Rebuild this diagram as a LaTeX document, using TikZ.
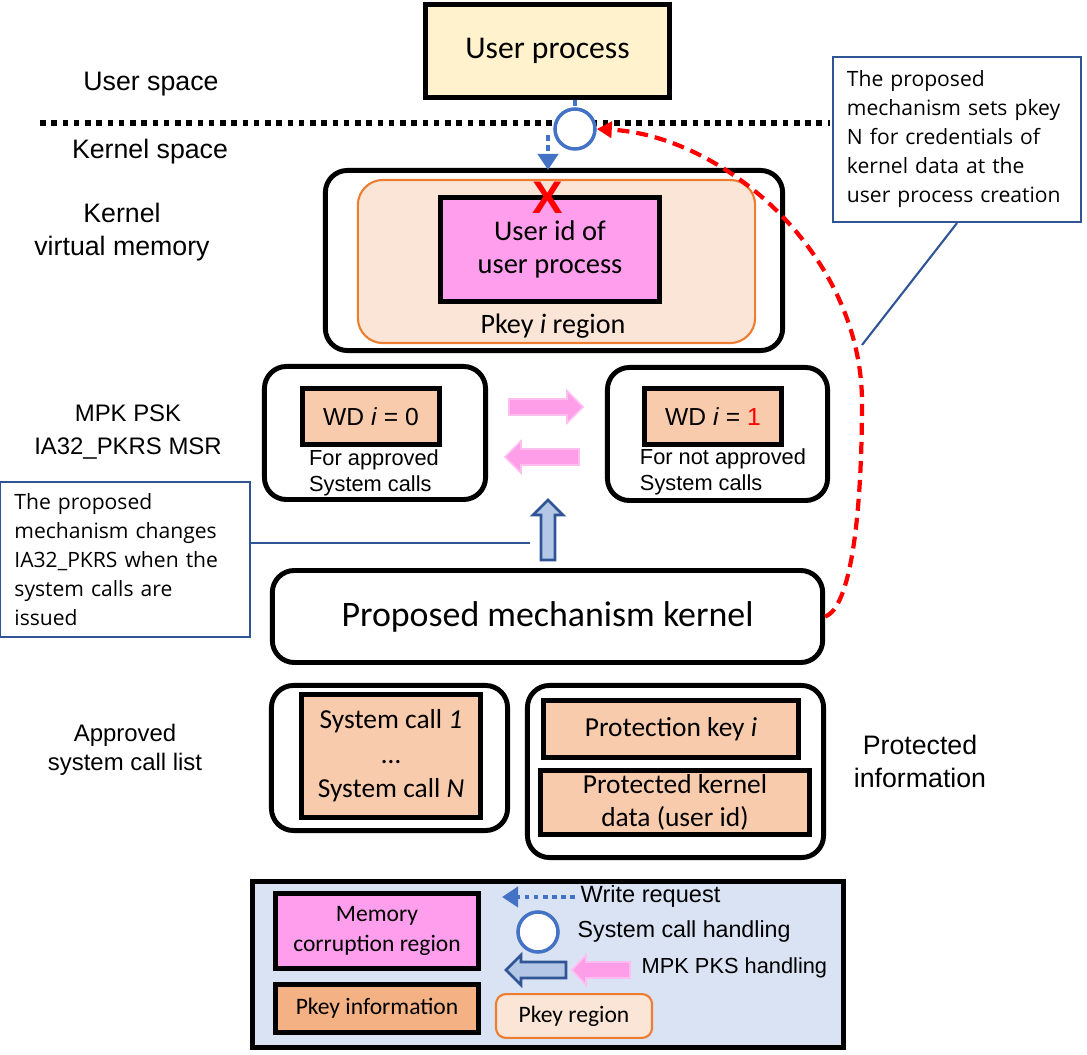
\documentclass[tikz,border=0pt]{standalone}
\usepackage{fontspec}
\setmainfont{Carlito}
\newfontfamily\arialfont{Liberation Sans}
\newfontfamily\notefont{Open Sans}
\usetikzlibrary{arrows.meta}

\definecolor{userfill}{HTML}{FFF2CC}
\definecolor{corruptfill}{HTML}{FF9EEC}
\definecolor{regionfill}{HTML}{FBE5D6}
\definecolor{regionline}{HTML}{ED7D31}
\definecolor{keyfill}{HTML}{F8CBAD}
\definecolor{infofill}{HTML}{F4B183}
\definecolor{legendfill}{HTML}{DAE3F3}
\definecolor{sysblue}{HTML}{4472C4}
\definecolor{noteblue}{HTML}{2F5597}
\definecolor{lightblue}{HTML}{B4C7E7}
\definecolor{arrowpink}{HTML}{FF9EE8}
\definecolor{arrowpinkline}{HTML}{FFBDF0}

\tikzset{
  frame/.style={draw=black, line width=1.4pt, rounded corners=0.22cm, inner sep=0pt},
  keybox/.style={draw=black, line width=1.5pt, fill=keyfill, inner sep=0pt, align=center},
  sidetext/.style={font=\arialfont\fontsize{7.6}{9.4}\selectfont, align=center},
  callout/.style={draw=noteblue, line width=0.6pt, fill=white, align=left, inner xsep=0.14cm,
    font=\notefont\fontsize{6}{8.25}\selectfont},
  noteline/.style={draw=noteblue, line width=0.6pt},
  bluedash/.style={draw=sysblue, line width=1.4pt, dash pattern=on 1.7pt off 1.2pt},
  pinkarrow/.style={fill=arrowpink, draw=arrowpinkline, line width=0.5pt},
  bluearrow/.style={fill=lightblue, draw=noteblue, line width=0.8pt},
  syscircle/.style={circle, draw=sysblue, line width=1pt, fill=white, minimum size=0.4cm, inner sep=0pt},
}

\begin{document}
\begin{tikzpicture}[x=0.01cm, y=-0.01cm]
\useasboundingbox (0,0) rectangle (1087,1055);
% Space labels and border
\node[sidetext] (userspace) at (151,84) {User space};
\node[sidetext] (kernelspace) at (150,152) {Kernel space};
\draw[black, line width=1.6pt, dash pattern=on 1.6pt off 1.6pt] (40,123) -- (830,123);
\node[sidetext] (kvmlabel) at (122,232) {Kernel\\virtual memory};
\node[sidetext, font=\arialfont\fontsize{6.8}{9.4}\selectfont] (msrlabel) at (128,432) {MPK PSK\\IA32\_PKRS MSR};
\node[sidetext, font=\arialfont\fontsize{6.8}{8.4}\selectfont] (listlabel) at (125,750) {Approved\\system call list};
\node[sidetext, font=\arialfont\fontsize{7.6}{9.4}\selectfont] (infolabel) at (920,761) {Protected\\information};
% User process
\node[draw=black, line width=1.5pt, fill=userfill, minimum width=2.44cm, minimum height=0.93cm,
  font=\fontsize{9}{10}\selectfont] (uproc) at (547.5,51) {User process};
\node[syscircle] (sch) at (575,129) {};
\draw[bluedash] (uproc.south -| sch.north) -- (sch.north);
% Kernel virtual memory
\node[frame, minimum width=4.57cm, minimum height=1.8cm] (kvm) at (554,260.5) {};
\node[draw=regionline, line width=0.6pt, fill=regionfill, rounded corners=0.25cm,
  minimum width=3.97cm, minimum height=1.63cm] (pkeyreg) at (556.5,261.5) {};
\node[draw=black, line width=1.5pt, fill=corruptfill, minimum width=2.19cm, minimum height=1.04cm,
  align=center, font=\fontsize{8.1}{9.4}\selectfont] (userid) at (550,249.5) {User id of\\user process};
\node[font=\fontsize{8}{9}\selectfont] (pkeylabel) at (553,326) {Pkey \textit{i} region};
\coordinate (wrq) at (548,135);
\draw[bluedash, -{Triangle[width=0.2cm,length=0.16cm]}] (wrq) -- (548,170);
\node[text=red, font=\arialfont\bfseries\fontsize{13}{13}\selectfont, inner sep=0pt] (deny) at (548,198) {X};
% WD switching
\node[frame, minimum width=2.21cm, minimum height=1.33cm] (wdleft) at (375,433) {};
\node[keybox, minimum width=1.37cm, minimum height=0.56cm, font=\arialfont\fontsize{7}{8}\selectfont]
  (wdzero) at (371,416.5) {WD \textit{i} = 0};
\node[align=left, font=\arialfont\fontsize{6.2}{7.4}\selectfont] (apprtext) at (374,473) {For approved\\System calls};
\node[frame, minimum width=2.2cm, minimum height=1.33cm] (wdright) at (717.5,434) {};
\node[keybox, minimum width=1.37cm, minimum height=0.56cm, font=\arialfont\fontsize{7}{8}\selectfont]
  (wdone) at (713,416.5) {WD \textit{i} = \textcolor{red}{1}};
\node[align=left, font=\arialfont\fontsize{6.2}{7.4}\selectfont] (notapprtext) at (723,472) {For not approved\\System calls};
\draw[pinkarrow] (509,399) -- (567,399) -- (567,391) -- (583,407) -- (567,423) -- (567,415) -- (509,415) -- cycle;
\draw[pinkarrow] (579,449) -- (521,449) -- (521,441) -- (505,457) -- (521,473) -- (521,465) -- (579,465) -- cycle;
\draw[bluearrow] (541,560) -- (541,515) -- (533,515) -- (548,500) -- (563,515) -- (555,515) -- (555,560) -- cycle;
% Kernel
\node[frame, minimum width=5.5cm, minimum height=0.92cm, font=\fontsize{10.2}{12}\selectfont]
  (kernel) at (547.5,616.5) {Proposed mechanism kernel};
% Approved list and protected information
\node[frame, minimum width=2.36cm, minimum height=1.45cm] (apprlist) at (389.5,758) {};
\node[keybox, minimum width=1.79cm, minimum height=1.23cm, font=\fontsize{7.8}{9.8}\selectfont]
  (syscalls) at (391,756) {System call \textit{1}\\…\\System call \textit{N}};
\node[frame, minimum width=2.96cm, minimum height=1.72cm] (protinfo) at (675.5,771.5) {};
\node[keybox, minimum width=2.55cm, minimum height=0.57cm, font=\fontsize{7.8}{9}\selectfont]
  (protkey) at (671,729) {Protection key \textit{i}};
\node[keybox, minimum width=2.69cm, minimum height=0.64cm, font=\fontsize{7.8}{9.6}\selectfont]
  (protdata) at (675,802.5) {Protected kernel\\data (user id)};
% Credential setting
\draw[red, line width=1.2pt, dash pattern=on 3.4pt off 2pt, -{Triangle[width=0.16cm,length=0.15cm]}]
  (kernel.east) .. controls (850,608) and (862,520) .. (862,400)
  .. controls (860,250) and (720,135) .. (sch.east);
% Callouts
\node[callout, text width=2.2cm, minimum height=1.65cm] (setnote) at (957,139.5)
  {The proposed\\mechanism sets pkey\\N for credentials of\\kernel data at the\\user process creation};
\draw[noteline] (setnote.south) -- (862,345);
\node[callout, text width=2.21cm, minimum height=1.55cm] (pkrsnote) at (125,559.5)
  {The proposed\\mechanism changes\\IA32\_PKRS when the\\system calls are\\issued};
\coordinate (pkrsend) at (530,543);
\draw[noteline] (pkrsnote.east |- pkrsend) -- (pkrsend);
% Legend
\node[draw=black, line width=1.5pt, fill=legendfill, minimum width=5.91cm, minimum height=1.66cm] (legend) at (548,964.5) {};
\node[draw=black, line width=1.5pt, fill=corruptfill, minimum width=2.03cm, minimum height=0.75cm,
  align=center, font=\fontsize{6.7}{8.4}\selectfont] (corruptkey) at (377,931) {Memory\\corruption region};
\node[draw=black, line width=1.5pt, fill=infofill, minimum width=2.03cm, minimum height=0.48cm,
  font=\fontsize{6.7}{8}\selectfont] (infokey) at (377,1008.5) {Pkey information};
\coordinate (wrstart) at (575,897);
\draw[bluedash, dash pattern=on 1.3pt off 1.3pt, -{Triangle[width=0.2cm,length=0.16cm]}] (wrstart) -- (502,897);
\node[anchor=west, inner sep=0pt, font=\arialfont\fontsize{6.7}{8}\selectfont] (wrtext) at (580,896) {Write request};
\node[syscircle] (schkey) at (538,932) {};
\node[anchor=west, inner sep=0pt, font=\arialfont\fontsize{6.6}{8}\selectfont] (schtext) at (577,932) {System call handling};
\draw[bluearrow] (566,962) -- (521,962) -- (521,955) -- (506,970) -- (521,985) -- (521,978) -- (566,978) -- cycle;
\draw[pinkarrow] (630,962) -- (586,962) -- (586,955) -- (572,970) -- (586,985) -- (586,978) -- (630,978) -- cycle;
\node[anchor=west, inner sep=0pt, font=\arialfont\fontsize{6.2}{8}\selectfont] (pkstext) at (641,968) {MPK PKS handling};
\node[draw=regionline, line width=0.6pt, fill=regionfill, rounded corners=0.1cm, minimum width=1.56cm,
  minimum height=0.43cm, font=\fontsize{6.7}{8}\selectfont] (regionkey) at (574,1016) {Pkey region};
\end{tikzpicture}
\end{document}
